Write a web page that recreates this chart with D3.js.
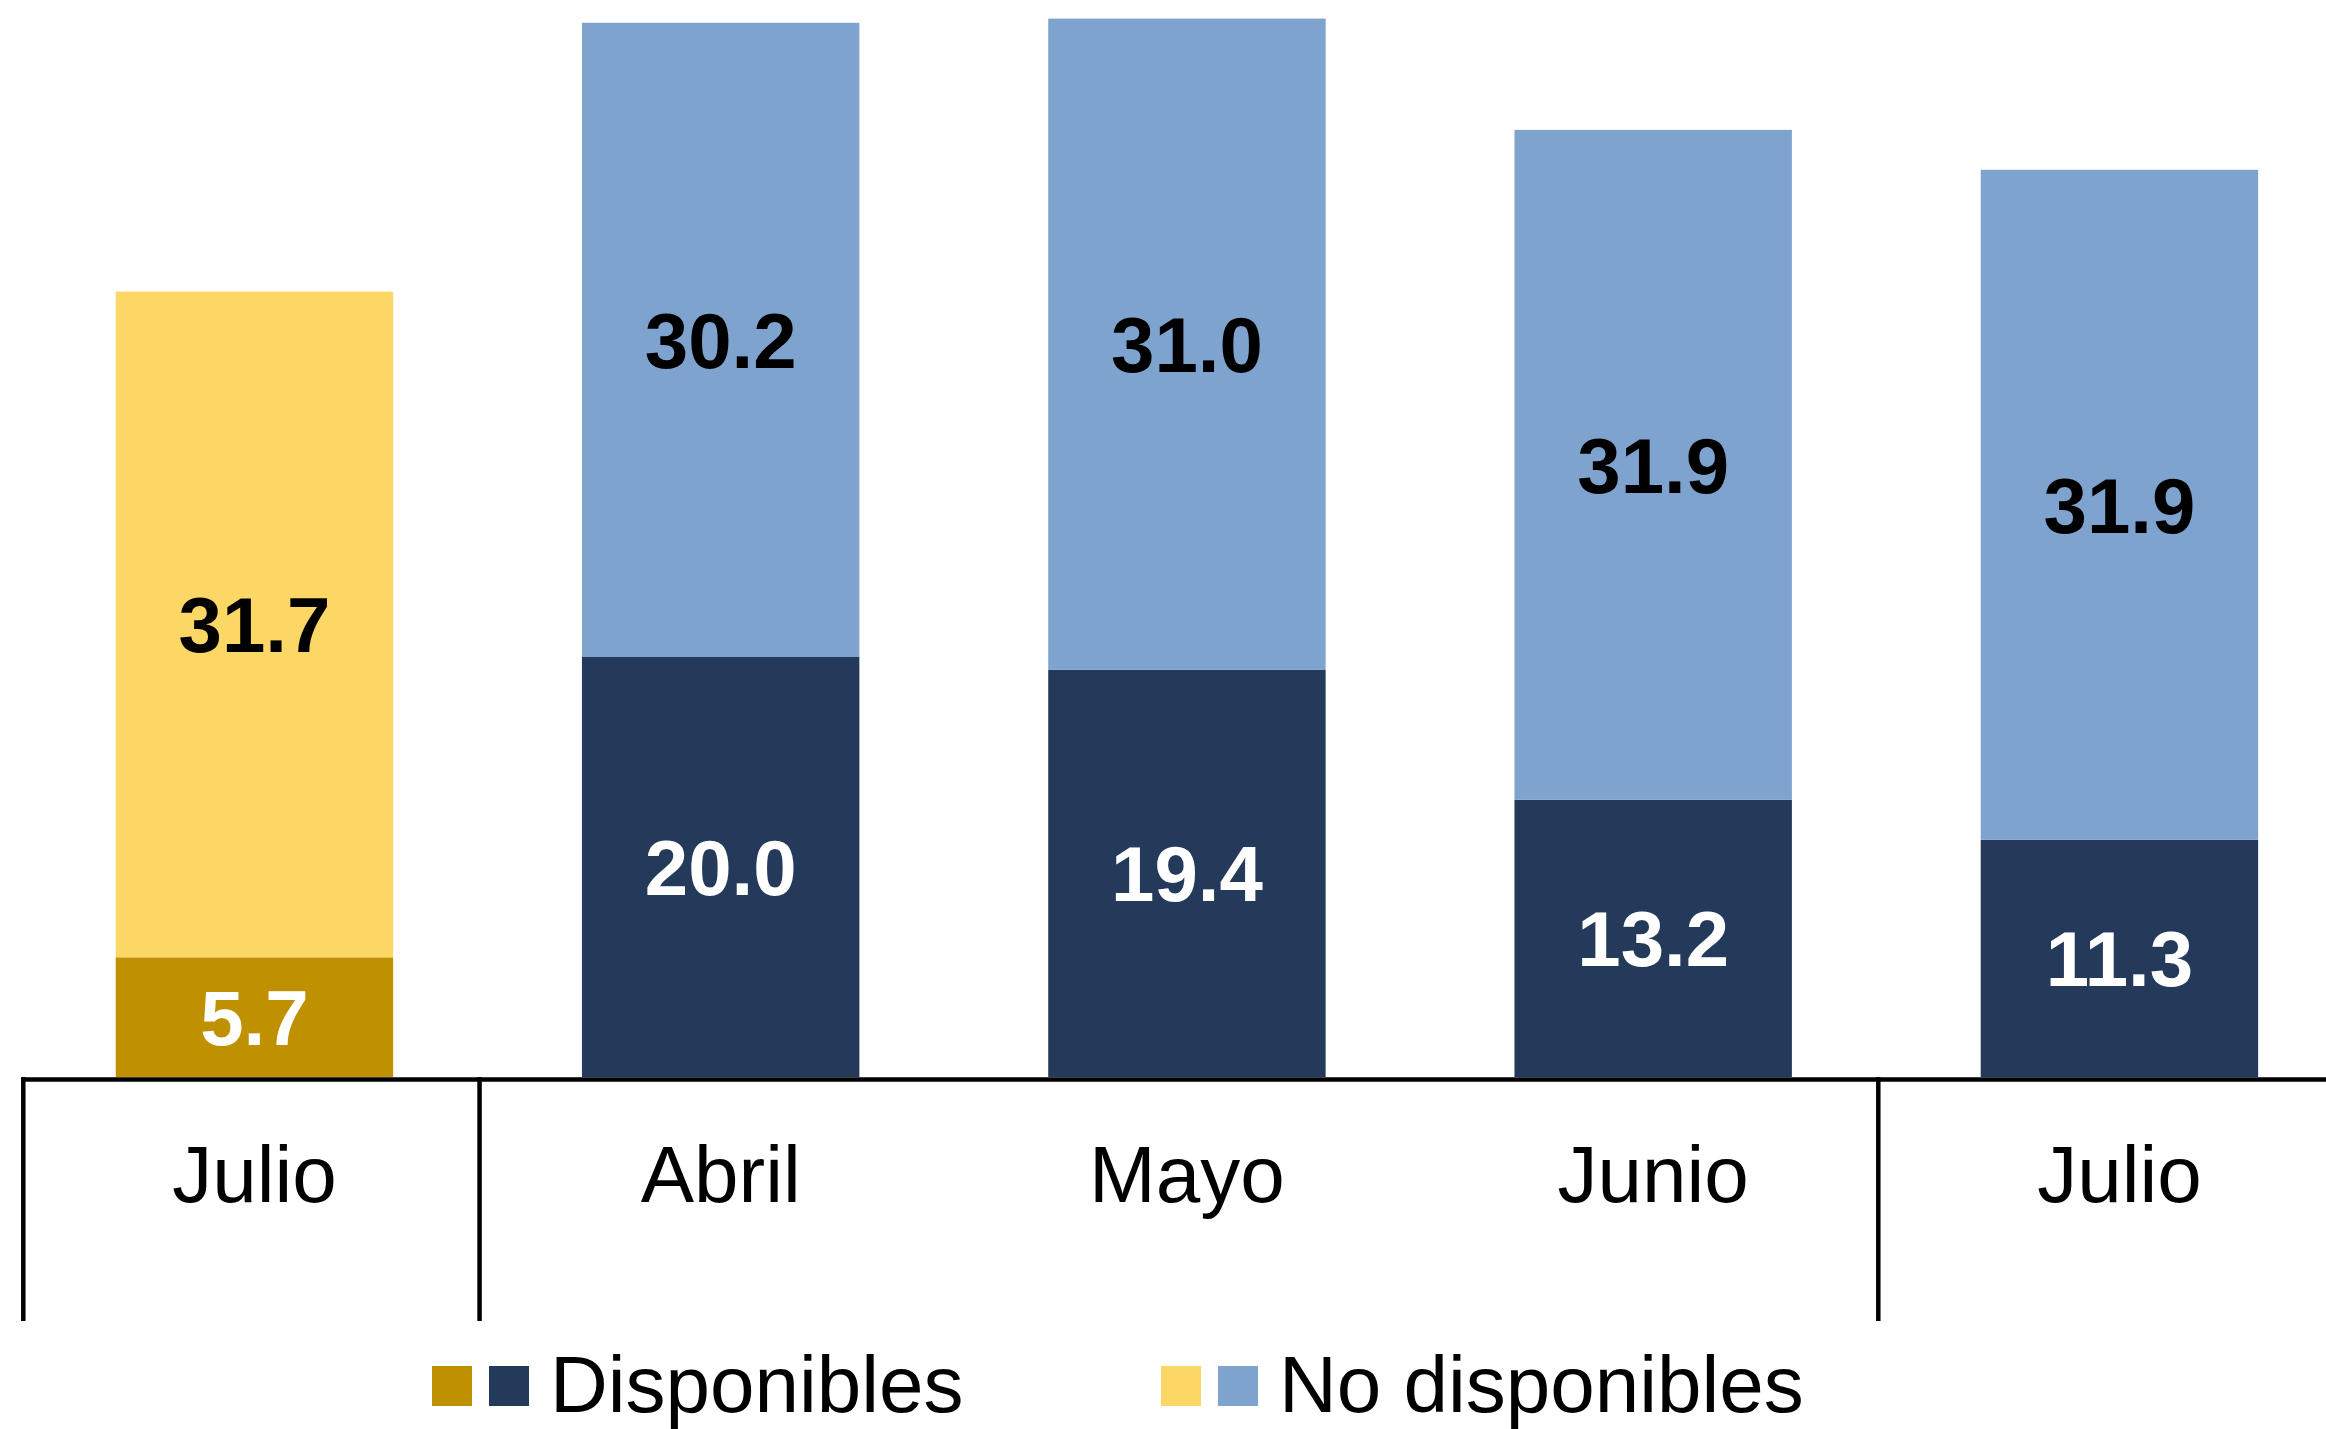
<!DOCTYPE html>
<html>
<head>
<meta charset="utf-8">
<script src="https://cdn.jsdelivr.net/npm/d3@7"></script>
<style>
  html, body { margin: 0; padding: 0; background: #fff; }
  svg { display: block; }
  text { font-family: "Liberation Sans", Arial, sans-serif; }
</style>
</head>
<body>
<svg id="chart" width="2326" height="1429"></svg>
<script>
// data
var categories = ["Julio", "Abril", "Mayo", "Junio", "Julio"];
var disponibles = [5.7, 20.0, 19.4, 13.2, 11.3];
var noDisponibles = [31.7, 30.2, 31.0, 31.9, 31.9];
// first bar is the previous-year reference, the rest the current year
var groupStarts = [0, 1, 4];
var colorsDisp = ["#BF9000", "#243A5A", "#243A5A", "#243A5A", "#243A5A"];
var colorsNoDisp = ["#FDD766", "#7FA3CF", "#7FA3CF", "#7FA3CF", "#7FA3CF"];
var legendLabels = ["Disponibles", "No disponibles"];

var W = 2326, H = 1429;
var baseY = 1077;

var svg = d3.select("#chart");

var x = d3.scaleBand()
    .domain(d3.range(categories.length))
    .range([21.3, 21.3 + 466.25 * 5])
    .paddingInner(0.405)
    .paddingOuter(0.2025);

var y = d3.scaleLinear()
    .domain([0, baseY / 21.0])
    .range([baseY, 0]);

var rows = categories.map(function(c, i) {
    return { i: i, cat: c, disp: disponibles[i], nodisp: noDisponibles[i] };
});

// lower segment: disponibles
svg.selectAll("rect.disp").data(rows).enter()
    .append("rect")
    .attr("class", "disp")
    .attr("x", function(d) { return x(d.i); })
    .attr("width", x.bandwidth())
    .attr("y", function(d) { return y(d.disp); })
    .attr("height", function(d) { return y(0) - y(d.disp); })
    .attr("fill", function(d) { return colorsDisp[d.i]; });

// upper segment: no disponibles
svg.selectAll("rect.nodisp").data(rows).enter()
    .append("rect")
    .attr("class", "nodisp")
    .attr("x", function(d) { return x(d.i); })
    .attr("width", x.bandwidth())
    .attr("y", function(d) { return y(d.disp + d.nodisp); })
    .attr("height", function(d) { return y(d.disp) - y(d.disp + d.nodisp); })
    .attr("fill", function(d) { return colorsNoDisp[d.i]; });

// value labels
svg.selectAll("text.vdisp").data(rows).enter()
    .append("text")
    .attr("class", "vdisp")
    .attr("x", function(d) { return x(d.i) + x.bandwidth() / 2; })
    .attr("y", function(d) { return y(d.disp / 2) + 28; })
    .attr("text-anchor", "middle")
    .attr("font-size", 78)
    .attr("font-weight", "bold")
    .attr("fill", "#fff")
    .text(function(d) { return d.disp.toFixed(1); });

svg.selectAll("text.vnodisp").data(rows).enter()
    .append("text")
    .attr("class", "vnodisp")
    .attr("x", function(d) { return x(d.i) + x.bandwidth() / 2; })
    .attr("y", function(d) { return y(d.disp + d.nodisp / 2) + 28; })
    .attr("text-anchor", "middle")
    .attr("font-size", 78)
    .attr("font-weight", "bold")
    .attr("fill", "#000")
    .text(function(d) { return d.nodisp.toFixed(1); });

// category axis
var gap = x.step() * x.paddingInner() / 2;
var axisLeft = x(0) - gap;

svg.append("line")
    .attr("x1", axisLeft).attr("x2", W)
    .attr("y1", baseY + 2.5).attr("y2", baseY + 2.5)
    .attr("stroke", "#000")
    .attr("stroke-width", 4.5);

svg.selectAll("line.sep").data(groupStarts).enter()
    .append("line")
    .attr("class", "sep")
    .attr("x1", function(i) { return x(i) - gap + (i > 0 ? -8 : 2); })
    .attr("x2", function(i) { return x(i) - gap + (i > 0 ? -8 : 2); })
    .attr("y1", baseY)
    .attr("y2", 1321)
    .attr("stroke", "#000")
    .attr("stroke-width", 4.5);

svg.selectAll("text.cat").data(rows).enter()
    .append("text")
    .attr("class", "cat")
    .attr("x", function(d) { return x(d.i) + x.bandwidth() / 2; })
    .attr("y", 1202)
    .attr("text-anchor", "middle")
    .attr("font-size", 80)
    .attr("fill", "#000")
    .text(function(d) { return d.cat; });

// legend
var legend = svg.append("g").attr("transform", "translate(0,1366)");
var legendItems = [
    { x: 432, label: legendLabels[0], c1: colorsDisp[0], c2: colorsDisp[1] },
    { x: 1161, label: legendLabels[1], c1: colorsNoDisp[0], c2: colorsNoDisp[1] }
];
var li = legend.selectAll("g.item").data(legendItems).enter()
    .append("g")
    .attr("class", "item")
    .attr("transform", function(d) { return "translate(" + d.x + ",0)"; });
li.append("rect").attr("x", 0).attr("y", 0).attr("width", 40).attr("height", 40)
    .attr("fill", function(d) { return d.c1; });
li.append("rect").attr("x", 57).attr("y", 0).attr("width", 40).attr("height", 40)
    .attr("fill", function(d) { return d.c2; });
li.append("text")
    .attr("x", 118)
    .attr("y", 46)
    .attr("font-size", 80)
    .attr("fill", "#000")
    .text(function(d) { return d.label; });
</script>
</body>
</html>
